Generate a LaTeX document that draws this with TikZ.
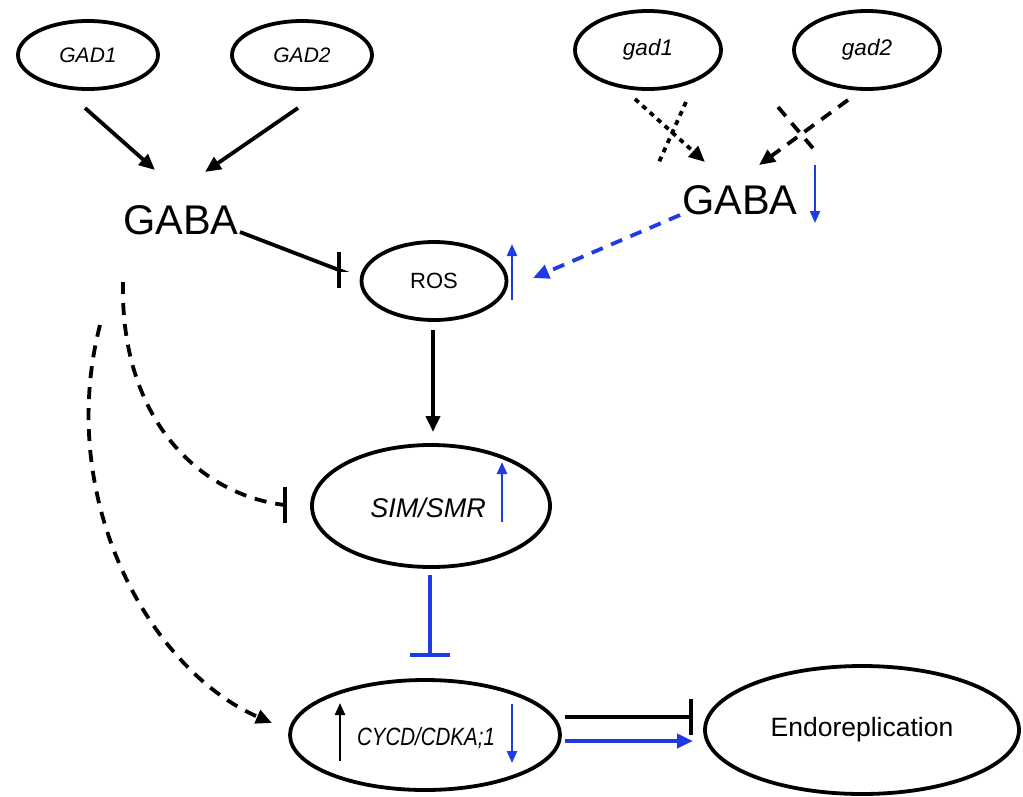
\documentclass[tikz,border=0pt]{standalone}
\usepackage{fontspec}
\setmainfont{Liberation Sans}
\usetikzlibrary{arrows.meta,shapes.geometric}
\definecolor{bl}{RGB}{30,60,225}
\begin{document}
\begin{tikzpicture}[x=1pt,y=-1pt,
  ell/.style={draw, ellipse, line width=3.8pt, inner sep=0pt},
  act/.style={line width=3.8pt, -{Triangle[length=16pt,width=14pt]}},
  inh/.style={line width=3.8pt, -{Bar[width=36pt,line width=3.8pt]}},
  sm/.style={line width=2.4pt, -{Triangle[length=12pt,width=10pt]}},
  dsh/.style={dash pattern=on 12pt off 9pt},
  dot/.style={dash pattern=on 5pt off 5pt},
  it/.style={font=\itshape\fontsize{21}{23}\selectfont}]
\useasboundingbox (0,0) rectangle (1023,796);
% nodes
\node[ell,it,minimum width=140pt,minimum height=68pt] (GAD1) at (88,55) {GAD1};
\node[ell,it,minimum width=140pt,minimum height=68pt] (GAD2) at (302,55) {GAD2};
\node[ell,font=\itshape\fontsize{22.5}{24}\selectfont,minimum width=146pt,minimum height=78pt] (gad1) at (648,50) {gad1};
\node[ell,font=\itshape\fontsize{22.5}{24}\selectfont,minimum width=146pt,minimum height=78pt] (gad2) at (867,50) {gad2};
\node[font=\fontsize{41.5}{42}\selectfont,inner sep=0pt] (GABAL) at (181,220) {GABA};
\node[font=\fontsize{41.5}{42}\selectfont,inner sep=0pt] (GABAR) at (740,200) {GABA};
\node[ell,font=\fontsize{22}{24}\selectfont,minimum width=145pt,minimum height=78pt] (ROS) at (434,281) {ROS};
\node[ell,minimum width=238pt,minimum height=122pt] (SIM) at (431,506) {};
\node[font=\itshape\fontsize{27}{29}\selectfont,inner sep=0pt] (SIMt) at (428,508) {SIM/SMR};
\node[ell,minimum width=270pt,minimum height=110pt] (CYCD) at (425,735) {};
\node[font=\itshape\fontsize{25}{27}\selectfont,inner sep=0pt] (CYCDt) at (426,738) {\addfontfeature{FakeStretch=0.82}CYCD/CDKA;1};
\node[ell,font=\fontsize{26.5}{28}\selectfont,minimum width=314pt,minimum height=128pt] (ENDO) at (862,730) {Endoreplication};
% coordinates
\coordinate (a1s) at (85,108); \coordinate (a1e) at (155,170);
\coordinate (a2s) at (298,108); \coordinate (a2e) at (205,172);
\coordinate (b1s) at (635,99); \coordinate (b1e) at (705,162);
\coordinate (x1s) at (686,102); \coordinate (x1e) at (659,162);
\coordinate (b2s) at (848,100); \coordinate (b2e) at (759,165);
\coordinate (x2s) at (778,107); \coordinate (x2e) at (817,153);
\coordinate (gr) at (680,215); \coordinate (rosin) at (533,278);
\coordinate (gl) at (240,232); \coordinate (rosbar0) at (339,270); \coordinate (rosbar) at (341,270);
\coordinate (rosout) at (433,330); \coordinate (simin) at (433,432);
\coordinate (simout) at (430,575); \coordinate (cycdin) at (430,657);
\coordinate (c1s) at (565,717); \coordinate (c1e) at (693,717);
\coordinate (c2s) at (565,741); \coordinate (c2e) at (693,741);
\coordinate (d1s) at (123,282); \coordinate (d1m) at (285,505); \coordinate (d1e) at (287,505);
\coordinate (d2s) at (100,325); \coordinate (d2e) at (272,723);
% connectors
\draw[act] (a1s) -- (a1e);
\draw[act] (a2s) -- (a2e);
\draw[act,dot] (b1s) -- (b1e);
\draw[line width=3.8pt,dot] (x1s) -- (x1e);
\draw[act,dsh] (b2s) -- (b2e);
\draw[line width=3.8pt,dsh] (x2s) -- (x2e);
\draw[act,bl,dsh] (gr) -- (rosin);
\draw[inh] (gl) -- (rosbar0) -- (rosbar);
\draw[act] (rosout) -- (simin);
\draw[line width=3.8pt,bl,-{Bar[width=40pt,line width=3.8pt]}] (simout) -- (cycdin);
\draw[inh] (c1s) -- (c1e);
\draw[act,bl] (c2s) -- (c2e);
\draw[inh,dsh] (d1s) .. controls (120,420) and (200,495) .. (d1m) -- (d1e);
\draw[act,dsh] (d2s) .. controls (55,500) and (150,670) .. (d2e);
% small change arrows
\coordinate (u1s) at (512,300); \coordinate (u1e) at (512,244);
\coordinate (u2s) at (815,165); \coordinate (u2e) at (815,223);
\coordinate (u3s) at (502,522); \coordinate (u3e) at (502,462);
\coordinate (u4s) at (340,761); \coordinate (u4e) at (340,703);
\coordinate (u5s) at (512,704); \coordinate (u5e) at (512,763);
\draw[sm,bl] (u1s) -- (u1e);
\draw[sm,bl] (u2s) -- (u2e);
\draw[sm,bl] (u3s) -- (u3e);
\draw[sm] (u4s) -- (u4e);
\draw[sm,bl] (u5s) -- (u5e);
\end{tikzpicture}
\end{document}
